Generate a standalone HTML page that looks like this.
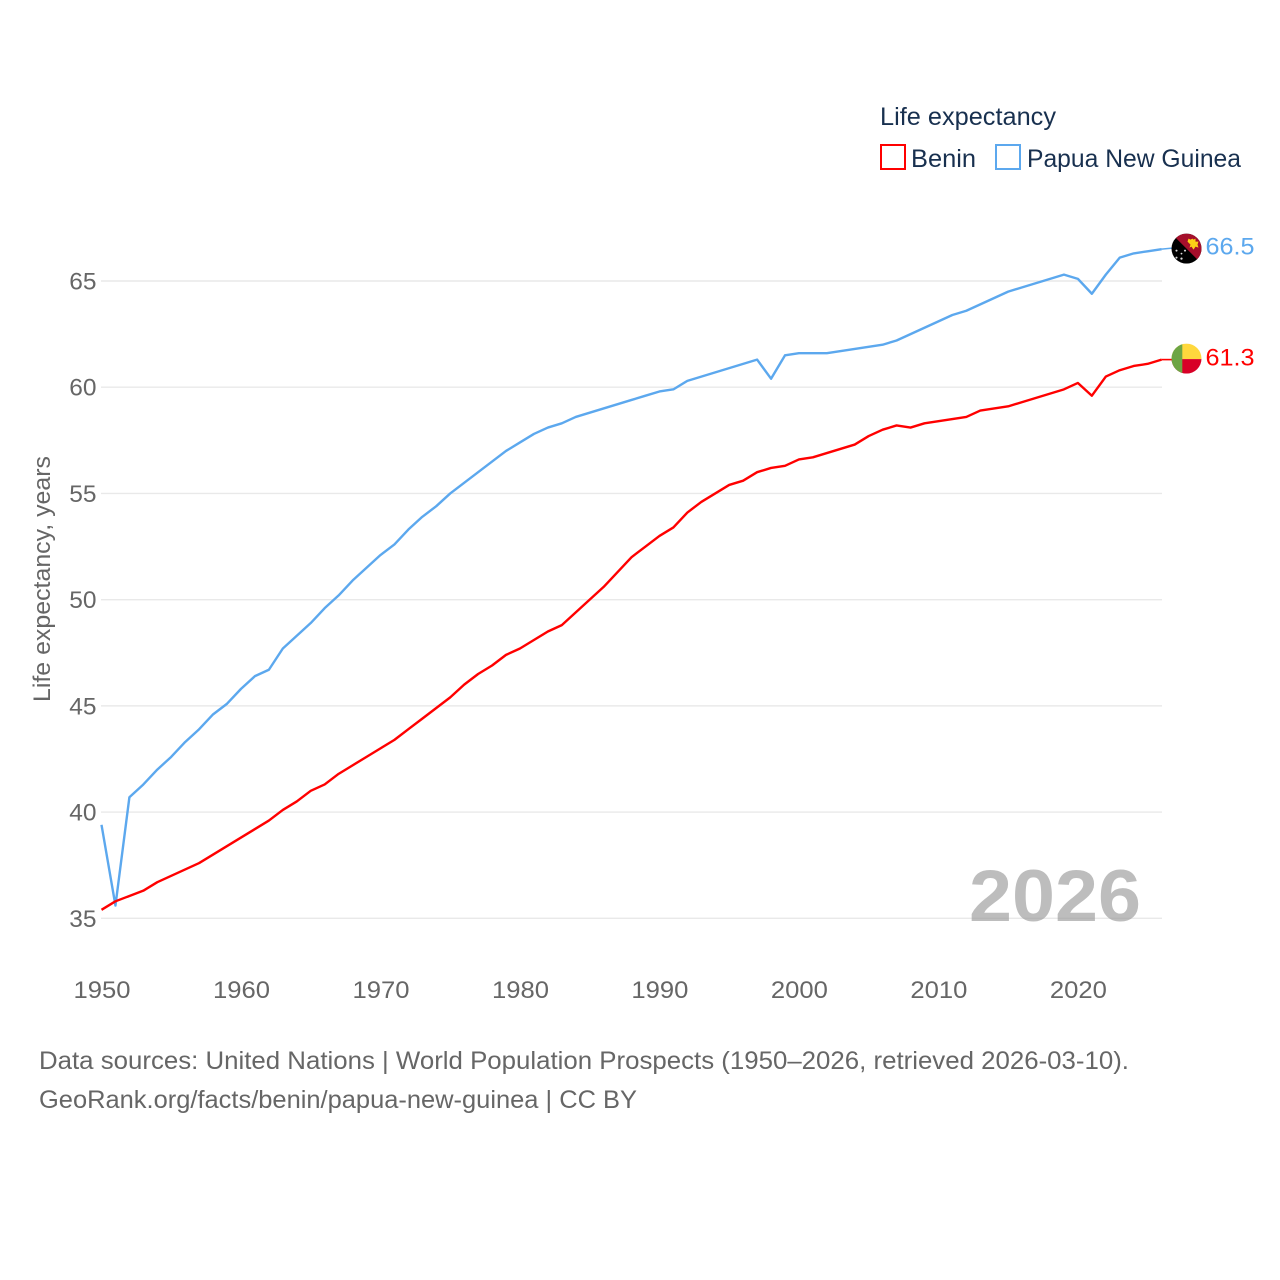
<!DOCTYPE html>
<html>
<head>
<meta charset="utf-8">
<style>
html,body{margin:0;padding:0;background:#fff;}
svg{display:block;}
text{font-family:"Liberation Sans",sans-serif;}
</style>
</head>
<body>
<svg id="chart" width="1280" height="1280" viewBox="0 0 1280 1280" xmlns="http://www.w3.org/2000/svg">
  <defs>
    <clipPath id="flag-clip-png"><circle cx="15" cy="15" r="15"/></clipPath>
    <clipPath id="flag-clip-benin"><circle cx="15" cy="15" r="15"/></clipPath>
  </defs>
  <rect x="0" y="0" width="1280" height="1280" fill="#ffffff"/>
  <g id="grid"></g>
  <g id="y-ticks"></g>
  <g id="x-ticks"></g>
  <text transform="translate(50,702) rotate(-90)" font-size="24" fill="#666666" textLength="246" lengthAdjust="spacingAndGlyphs">Life expectancy, years</text>
  <text x="969" y="921" font-size="73" font-weight="700" fill="#9a9a9a" fill-opacity="0.65" textLength="172" lengthAdjust="spacingAndGlyphs">2026</text>
  <g id="series"></g>
  <g id="flag-png">
    <g clip-path="url(#flag-clip-png)">
      <rect width="30" height="30" fill="#000000"/>
      <polygon points="0,0 30,0 30,30" fill="#a50f2b"/>
      <polygon points="16,8 17,5 19,6 21,5 22,6 24,5 24,8 27,8 26,11 27,14 24,13 22,16 20,13 18,14 19,11" fill="#fcd116"/>
      <circle cx="5" cy="17" r="1" fill="#dddddd"/>
      <circle cx="13.5" cy="17" r="1" fill="#dddddd"/>
      <circle cx="10" cy="20" r="0.9" fill="#dddddd"/>
      <circle cx="5" cy="24" r="1" fill="#dddddd"/>
      <circle cx="10" cy="25" r="1.1" fill="#dddddd"/>
    </g>
  </g>
  <g id="flag-benin">
    <g clip-path="url(#flag-clip-benin)">
      <rect width="30" height="15.5" fill="#ffd83d"/>
      <rect y="15.5" width="30" height="14.5" fill="#d80027"/>
      <rect width="10.8" height="30" fill="#6da544"/>
    </g>
  </g>
  <g id="end-labels"></g>
  <text x="880" y="125" font-size="25" fill="#18304f" textLength="176" lengthAdjust="spacingAndGlyphs">Life expectancy</text>
  <rect x="881" y="145" width="24" height="24" fill="#ffffff" stroke="#ff0000" stroke-width="2"/>
  <text x="911" y="167" font-size="25" fill="#18304f" textLength="65" lengthAdjust="spacingAndGlyphs">Benin</text>
  <rect x="996" y="145" width="24" height="24" fill="#ffffff" stroke="#5ca8ee" stroke-width="2"/>
  <text x="1027" y="167" font-size="25" fill="#18304f" textLength="214" lengthAdjust="spacingAndGlyphs">Papua New Guinea</text>
  <text x="39" y="1069" font-size="25" fill="#666666" textLength="1090" lengthAdjust="spacingAndGlyphs">Data sources: United Nations | World Population Prospects (1950–2026, retrieved 2026-03-10).</text>
  <text x="39" y="1108" font-size="25" fill="#666666" textLength="598" lengthAdjust="spacingAndGlyphs">GeoRank.org/facts/benin/papua-new-guinea | CC BY</text>
</svg>
<script>
const years = [1950,1951,1952,1953,1954,1955,1956,1957,1958,1959,1960,1961,1962,1963,1964,1965,1966,1967,1968,1969,1970,1971,1972,1973,1974,1975,1976,1977,1978,1979,1980,1981,1982,1983,1984,1985,1986,1987,1988,1989,1990,1991,1992,1993,1994,1995,1996,1997,1998,1999,2000,2001,2002,2003,2004,2005,2006,2007,2008,2009,2010,2011,2012,2013,2014,2015,2016,2017,2018,2019,2020,2021,2022,2023,2024,2025,2026];
const beninValues = [35.4,35.8,36.05,36.3,36.7,37.0,37.3,37.6,38.0,38.4,38.8,39.2,39.6,40.1,40.5,41.0,41.3,41.8,42.2,42.6,43.0,43.4,43.9,44.4,44.9,45.4,46.0,46.5,46.9,47.4,47.7,48.1,48.5,48.8,49.4,50.0,50.6,51.3,52.0,52.5,53.0,53.4,54.1,54.6,55.0,55.4,55.6,56.0,56.2,56.3,56.6,56.7,56.9,57.1,57.3,57.7,58.0,58.2,58.1,58.3,58.4,58.5,58.6,58.9,59.0,59.1,59.3,59.5,59.7,59.9,60.2,59.6,60.5,60.8,61.0,61.1,61.3];
const pngValues = [39.4,35.6,40.7,41.3,42.0,42.6,43.3,43.9,44.6,45.1,45.8,46.4,46.7,47.7,48.3,48.9,49.6,50.2,50.9,51.5,52.1,52.6,53.3,53.9,54.4,55.0,55.5,56.0,56.5,57.0,57.4,57.8,58.1,58.3,58.6,58.8,59.0,59.2,59.4,59.6,59.8,59.9,60.3,60.5,60.7,60.9,61.1,61.3,60.4,61.5,61.6,61.6,61.6,61.7,61.8,61.9,62.0,62.2,62.5,62.8,63.1,63.4,63.6,63.9,64.2,64.5,64.7,64.9,65.1,65.3,65.1,64.4,65.3,66.1,66.3,66.4,66.5];
const yTickValues = [35,40,45,50,55,60,65];
const xTickValues = [1950,1960,1970,1980,1990,2000,2010,2020];

const NS = 'http://www.w3.org/2000/svg';
function xScale(year){ return 101.5 + (year - 1950) * (1161.6 - 101.5) / 76; }
function yScale(v){ return 918.3 - (v - 35) * (918.3 - 281) / 30; }
function make(tag, attrs, parent){
  const el = document.createElementNS(NS, tag);
  for (const k in attrs) el.setAttribute(k, attrs[k]);
  parent.appendChild(el);
  return el;
}

const gridG = document.getElementById('grid');
const yG = document.getElementById('y-ticks');
yTickValues.forEach(function(v){
  const line = make('line', {x1:101, x2:1162, y1:yScale(v), y2:yScale(v), stroke:'#e9e9e9', 'stroke-width':1.4}, gridG);
  
  
  const t = make('text', {x:96.5, y:yScale(v)+8.5, 'text-anchor':'end', 'font-size':24.5, fill:'#666666'}, yG);
  
  
  t.textContent = v;
});

const xG = document.getElementById('x-ticks');
xTickValues.forEach(function(y){
  const t = make('text', {x:xScale(y)+0.5, y:998, 'text-anchor':'middle', 'font-size':24.5, fill:'#666666', textLength:57, lengthAdjust:'spacingAndGlyphs'}, xG);
  
  
  t.textContent = y;
});

function linePath(vals){
  return vals.map(function(v,i){ return (i ? 'L' : 'M') + xScale(years[i]).toFixed(2) + ' ' + yScale(v).toFixed(2); }).join(' ');
}

const seriesG = document.getElementById('series');
const bluePath = make('path', {d:linePath(pngValues), fill:'none', stroke:'#5ca8ee', 'stroke-width':2.4, 'stroke-linejoin':'round'}, seriesG);


const redPath = make('path', {d:linePath(beninValues), fill:'none', stroke:'#ff0000', 'stroke-width':2.4, 'stroke-linejoin':'round'}, seriesG);



const lastIdx = years.length - 1;
const lastX = xScale(years[lastIdx]);
const pngEndY = yScale(pngValues[lastIdx]);
const beninEndY = yScale(beninValues[lastIdx]);

const blueLeader = make('line', {x1:lastX, y1:pngEndY, x2:1172, y2:pngEndY-1, stroke:'#5ca8ee', 'stroke-width':1.6}, seriesG);


const redLeader = make('line', {x1:lastX, y1:beninEndY, x2:1172, y2:beninEndY, stroke:'#ff0000', 'stroke-width':1.6}, seriesG);



document.getElementById('flag-png').setAttribute('transform', 'translate(1171.5,' + (pngEndY - 15.5) + ')');
document.getElementById('flag-benin').setAttribute('transform', 'translate(1171.5,' + (beninEndY - 16) + ')');

const labelsG = document.getElementById('end-labels');
const pngLabel = make('text', {x:1205.5, y:pngEndY+5.5, 'font-size':24.5, fill:'#5ca8ee', textLength:49, lengthAdjust:'spacingAndGlyphs'}, labelsG);


pngLabel.textContent = pngValues[lastIdx].toFixed(1);
const beninLabel = make('text', {x:1205.5, y:beninEndY+6, 'font-size':24.5, fill:'#ff0000', textLength:49, lengthAdjust:'spacingAndGlyphs'}, labelsG);


beninLabel.textContent = beninValues[lastIdx].toFixed(1);
</script>
</body>
</html>
